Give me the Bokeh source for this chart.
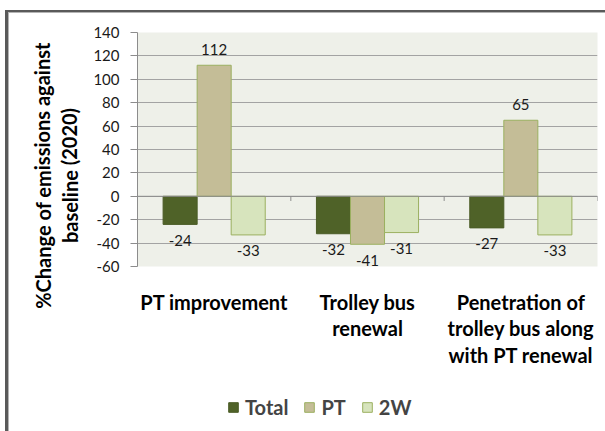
from bokeh.plotting import figure
from bokeh.layouts import row, column
from bokeh.models import FactorRange, FixedTicker, Span, Legend, LegendItem, ColumnDataSource
from bokeh.transform import dodge
from bokeh.core.properties import value
from bokeh.embed import file_html
from bokeh.resources import INLINE

# ---- data ----
categories = ["PT improvement", "Trolley bus\nrenewal", "Penetration of\ntrolley bus along\nwith PT renewal"]
series_names = ["Total", "PT", "2W"]
total = [-24, -32, -27]
pt = [112, -41, 65]
two_w = [-33, -31, -33]
y_ticks = [-60, -40, -20, 0, 20, 40, 60, 80, 100, 120, 140]
y_title_lines = ["%Change of emissions against", "baseline (2020)"]

fills = ["#4f6228", "#c4bd97", "#d7e4bd"]
lines = ["#4a5c26", "#9bb060", "#9bb060"]
FONT = "Lato"
W, HT = 605, 431
TW = 88          # width of the y-title strip
HR = 385         # height of the chart
HL = HT - HR     # height of the legend strip
FRAME_LEFT = 137

DARK, LIGHT = "#5a5a5a", "#b4b4b4"


def bare(fig):
    fig.outline_line_color = None
    fig.background_fill_color = None
    fig.border_fill_color = None
    fig.grid.visible = False
    return fig


# ---- y-axis title strip (full height) ----
tf = bare(figure(width=TW, height=HT, x_range=(0, TW), y_range=(0, HT),
                 output_backend="svg", toolbar_location=None,
                 x_axis_type=None, y_axis_type=None,
                 min_border_left=0, min_border_right=0, min_border_top=0, min_border_bottom=0))
tf.styles = {"box-shadow": f"inset 0 10px 0 #ffffff, inset 5px 0 0 #ffffff, "
                           f"inset 8px 12px 0 {DARK}, inset 9px 13px 0 {LIGHT}"}
line_gap = 27
tf.text(x=[42 + i * line_gap for i in range(len(y_title_lines))],
        y=[HT - 175] * len(y_title_lines), text=y_title_lines, angle=1.5708,
        text_align="center", text_baseline="middle",
        text_font=value(FONT), text_font_size="20px", text_font_style="bold",
        text_color="#000000")

# ---- main chart ----
p = figure(x_range=FactorRange(*categories, range_padding=0, factor_padding=0),
           y_range=(y_ticks[0], y_ticks[-1]),
           width=W - TW, height=HR, output_backend="svg", toolbar_location=None,
           min_border_left=FRAME_LEFT - TW, min_border_right=8, min_border_top=32,
           min_border_bottom=HR - 266)
p.styles = {"box-shadow": f"inset 0 10px 0 #ffffff, inset 0 12px 0 {DARK}, inset 0 13px 0 {LIGHT}"}
p.background_fill_color = "#eef0e9"
p.border_fill_color = None
p.outline_line_color = None

p.xgrid.grid_line_color = None
p.ygrid.ticker = FixedTicker(ticks=y_ticks)
p.ygrid.grid_line_color = "#a3a3a3"
p.ygrid.grid_line_width = 1

p.yaxis.ticker = FixedTicker(ticks=y_ticks)
p.yaxis.major_label_overrides = {t: str(t) for t in y_ticks}
p.yaxis.axis_line_color = "#8c8c8c"
p.yaxis.major_tick_line_color = "#8c8c8c"
p.yaxis.major_tick_out = 7
p.yaxis.major_tick_in = 0
p.yaxis.minor_tick_line_color = None
p.yaxis.major_label_text_font = FONT
p.yaxis.major_label_text_font_size = "15px"
p.yaxis.major_label_text_color = "#1a1a1a"
p.yaxis.major_label_standoff = 11

p.xaxis.axis_line_color = None
p.xaxis.major_tick_line_color = None
p.xaxis.major_label_text_font = FONT
p.xaxis.major_label_text_font_size = "20px"
p.xaxis.major_label_text_font_style = "bold"
p.xaxis.major_label_text_color = "#000000"
p.xaxis.major_label_text_line_height = 1.12
p.xaxis.major_label_standoff = 17

values_list = [total, pt, two_w]
n = len(series_names)
bw = 0.222
for i, (name, vals) in enumerate(zip(series_names, values_list)):
    off = (i - (n - 1) / 2) * bw
    src = ColumnDataSource(dict(
        cat=categories, val=vals, lab=[str(v) for v in vals],
        yoff=[-16 if v >= 0 else 16 for v in vals]))
    p.vbar(x=dodge("cat", off, range=p.x_range), top="val", bottom=0, width=bw,
           source=src, fill_color=fills[i], line_color=lines[i], line_width=1)
    p.text(x=dodge("cat", off, range=p.x_range), y="val", text="lab", source=src,
           y_offset="yoff", text_align="center", text_baseline="middle",
           text_font=value(FONT), text_font_size="15px", text_color="#1a1a1a")

# horizontal axis line at zero with boundary tick marks
p.add_layout(Span(location=0, dimension="width", line_color="#8c8c8c", line_width=1))
bounds = list(range(1, len(categories) + 1))
p.segment(x0=bounds, x1=bounds, y0=[0] * len(bounds), y1=[-4] * len(bounds),
          line_color="#8c8c8c", line_width=1)

# ---- legend strip (proxy renderers carry the series styles, no visible marks) ----
lf = bare(figure(width=W - TW, height=HL, x_range=(0, 1), y_range=(0, 1),
                 output_backend="svg", toolbar_location=None,
                 x_axis_type=None, y_axis_type=None,
                 min_border_left=0, min_border_right=0, min_border_top=0, min_border_bottom=0))
proxies = [lf.vbar(x=[0.5], top=[float("nan")], width=0.1,
                   fill_color=fills[i], line_color=lines[i])
           for i in range(n)]
# the strip's frame is aligned with the chart frame, so x is measured from FRAME_LEFT
legend = Legend(items=[LegendItem(label=nm, renderers=[r]) for nm, r in zip(series_names, proxies)],
                location=(227 - FRAME_LEFT, HT - 419), orientation="horizontal",
                glyph_width=12, glyph_height=12, label_standoff=6, spacing=15,
                padding=0, margin=0,
                label_text_font=FONT, label_text_font_size="20px", label_text_font_style="bold",
                border_line_color=None, background_fill_alpha=0)
lf.add_layout(legend)

layout = row(tf, column(p, lf, spacing=0), spacing=0)
open("out.html", "w").write(file_html(layout, INLINE))
